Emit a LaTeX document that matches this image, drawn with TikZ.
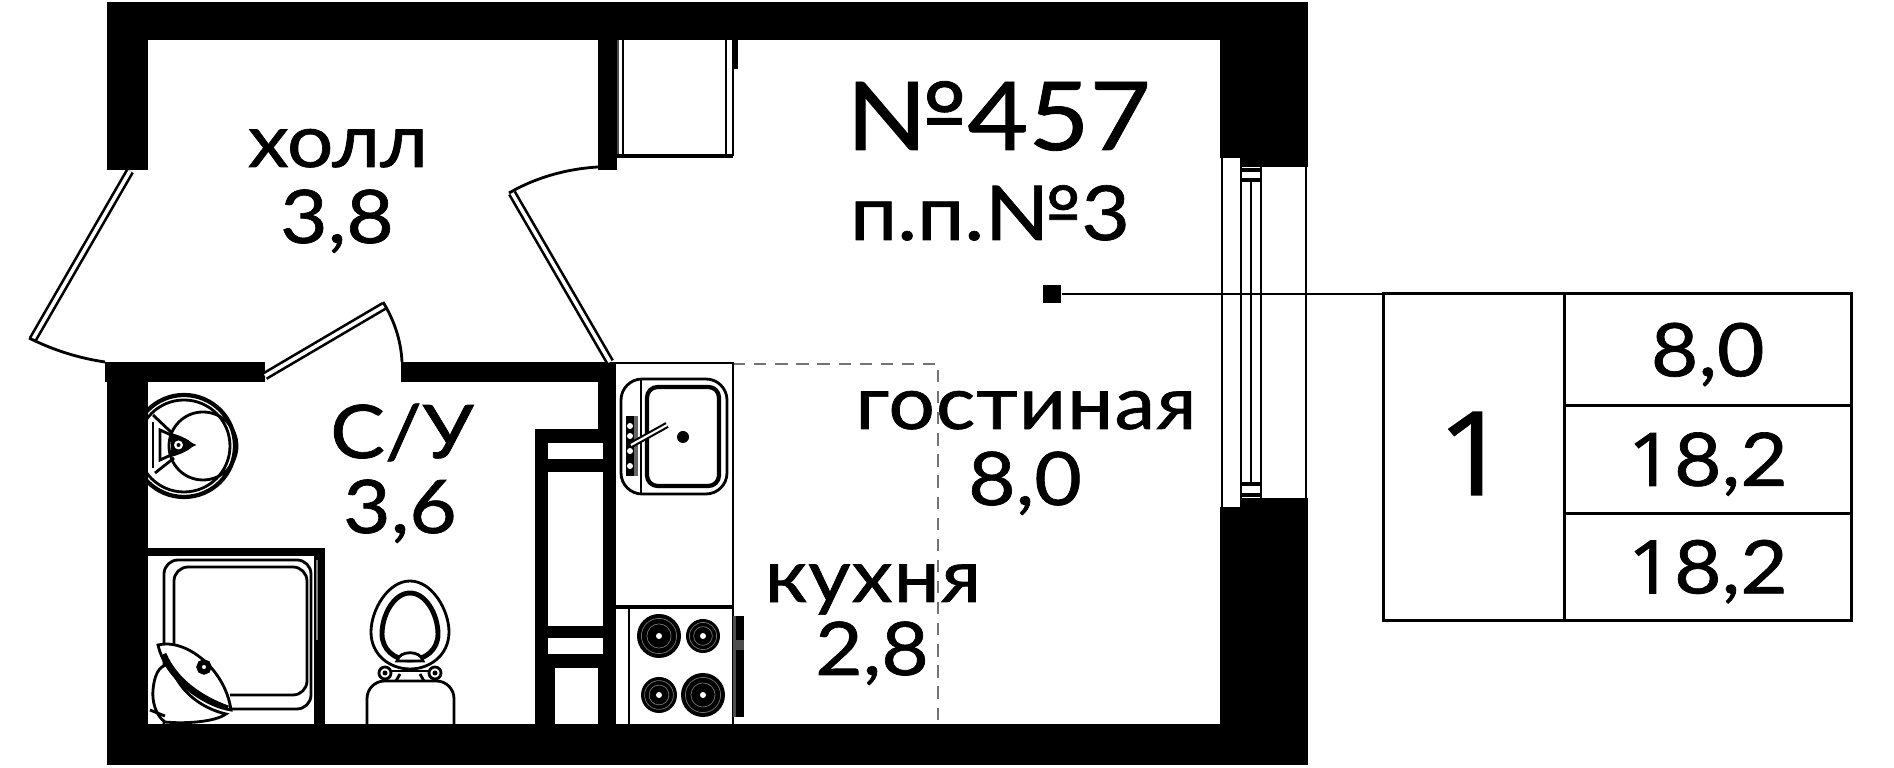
\documentclass[tikz,border=0pt]{standalone}
\usepackage{fontspec}
\setmainfont{Lato}[FakeStretch=1.11, RawFeature={embolden=0.9}]
\newfontfamily\onefont{Open Sans}[FakeStretch=1.1, RawFeature={embolden=1.2}]
\newcommand{\unitdigit}{{\onefont 1}}
\usepackage{tikz}
\usetikzlibrary{positioning}
\tikzstyle{wall} = [fill=black, draw=none]
\tikzstyle{cutout} = [fill=white, draw=none]
\tikzstyle{line} = [draw=black, line width=0.8pt]
\tikzstyle{thickline} = [draw=black, line width=1.2pt]
\tikzstyle{door} = [draw=black, line width=0.75pt, double=white, double distance=1pt]
\tikzstyle{swing} = [draw=black, line width=0.8pt]
\tikzstyle{zone} = [draw=black!55, line width=0.6pt, dash pattern=on 3.5pt off 2.5pt]
\tikzstyle{label} = [anchor=base, inner sep=0pt, font=\fontsize{21}{21}\selectfont]
\tikzstyle{wide} = [font=\fontsize{21}{21}\selectfont\addfontfeature{LetterSpace=1.5}]
\tikzstyle{title} = [anchor=base, inner sep=0pt, font=\fontsize{27}{27}\selectfont]
\tikzstyle{cell} = [rectangle, draw=black, line width=0.85pt, minimum width=2.87cm, inner sep=0pt, outer sep=0pt, text depth=0pt, font=\fontsize{21}{21}\selectfont, anchor=north west]

\begin{document}
\begin{tikzpicture}[x=0.01cm, y=-0.01cm]
	\useasboundingbox (0,0) rectangle (1894,768);
	\fill[white] (0,0) rectangle (1894,768);
	% walls
	\fill[wall] (107,2) rectangle (1308,40);
	\fill[wall] (107,2) rectangle (148,170);
	\fill[wall] (598,40) rectangle (617,170);
	\fill[wall] (1220,2) rectangle (1308,158);
	\fill[wall] (1240,158) rectangle (1308,167);
	\fill[wall] (1220,507) rectangle (1308,765);
	\fill[wall] (1240,498) rectangle (1308,507);
	\fill[wall] (107,724) rectangle (1308,765);
	\fill[wall] (107,382) rectangle (148,765);
	\fill[wall] (105,362) rectangle (265,382);
	\fill[wall] (401,362) rectangle (616,382);
	\fill[wall] (598,382) rectangle (616,429);
	\fill[wall] (535,429) rectangle (616,724);
	% shaft
	\fill[cutout] (548,443) rectangle (603,459);
	\fill[cutout] (548,472) rectangle (603,626);
	\fill[cutout] (548,638) rectangle (603,654);
	\fill[cutout] (555,668) rectangle (598,724);
	% doors
	\draw[door] (130,171) -- (33,339);
	\draw[swing] (29,338) .. controls (53,350) and (78,358) .. (105,362);
	\draw[door] (265,376) -- (384,306);
	\draw[swing] (383,302) .. controls (394,320) and (401,340) .. (402,362);
	\draw[door] (512,193) -- (610,362);
	\draw[swing] (509,193) .. controls (535,178) and (565,169) .. (598,167);
	% window
	\draw[line] (1222,158) -- (1222,507);
	\draw[line] (1306,167) -- (1306,498);
	\draw[line] (1241,162) rectangle (1261,503);
	\draw[line] (1251,180) -- (1251,484);
	\foreach \wy in {170,180,484,495}
		\draw[thickline] (1241,\wy) -- (1261,\wy);
	% cabinet
	\draw[draw=black!70, line width=0.6pt] (618,40) -- (618,156);
	\draw[line] (623,40) -- (623,156);
	\draw[line] (726,40) -- (726,156);
	\draw[line] (733,40) -- (733,156);
	\draw[thickline] (617,156) -- (733,156);
	\fill[wall] (733,40) rectangle (738,69);
	% kitchen
	\draw[zone] (733,364) -- (938,364) -- (938,724);
	\draw[line] (616,363) -- (733,363) -- (733,724);
	\draw[thickline] (616,607) -- (733,607);
	\draw[line] (629,607) -- (629,724);
	\draw[line, rounded corners=6pt] (621,379) rectangle (727,494);
	\draw[thickline, rounded corners=3pt] (647,387) rectangle (719,486);
	\draw[line] (641,379) -- (641,494);
	\fill[black] (683,437) circle (6);
	\fill[black] (626,416) rectangle (634,476);
	\fill[black!60] (634,416) rectangle (638,476);
	\foreach \hy in {426,436,451,466}
		\fill[white] (630,\hy) circle (3);
	\draw[door, line width=0.6pt, double distance=0.6pt] (631,445) -- (667,425);
	\foreach \bx/\by/\br in {659/636/22, 703/636/17, 659/695/18, 703/695/22} {
		\fill[black] (\bx,\by) circle (\br);
		\draw[black!55, line width=0.2pt] (\bx,\by) circle ({0.8*\br});
		\draw[black!55, line width=0.2pt] (\bx,\by) circle ({0.55*\br});
		\fill[white] (\bx,\by) circle (3);
	}
	\fill[black!70] (733,616) rectangle (744,717);
	\fill[black] (736,616) rectangle (744,717);
	\fill[black!70] (733,640) rectangle (744,650);
	% wash basin
	\begin{scope}
		\clip (148,380) rectangle (260,510);
		\draw[thickline] (184,446) circle (51);
		\draw[line] (184,446) circle (46);
		\draw[line] (203,446) circle (34);
	\end{scope}
	\draw[line] (153,415) -- (172,433);
	\draw[line] (155,473) -- (174,458);
	\draw[line] (153,422) -- (153,468);
	\draw[line] (160,430) -- (193,445) -- (160,460) -- cycle;
	\fill[black] (171,433) .. controls (182,436) and (192,441) .. (193,445) .. controls (192,449) and (182,454) .. (171,457) -- cycle;
	\fill[white] (178.5,445) circle (4.5);
	\fill[black] (178.5,445) circle (2);
	% shower
	\fill[wall] (148,548) rectangle (325,556);
	\fill[wall] (314,548) rectangle (325,724);
	\draw[draw=black!50, line width=0.5pt] (317,560) -- (317,640);
	\draw[line, rounded corners=4pt] (164,724) -- (164,560) -- (311,560) -- (311,709) -- (230,709);
	\draw[line, rounded corners=4pt] (174,660) -- (174,567) -- (307,567) -- (307,695) -- (230,695);
	\draw[line, fill=white] (153,690) .. controls (155,668) and (163,665) .. (170,664) .. controls (178,690) and (200,708) .. (226,714) .. controls (215,722) and (185,724) .. (165,722) .. controls (155,715) and (152,700) .. (153,690) -- cycle;
	\draw[line, fill=white] (158,645) .. controls (185,638) and (225,668) .. (231,710) .. controls (205,706) and (166,680) .. (158,645) -- cycle;
	\draw[draw=black, line width=1.4pt] (164,654) .. controls (175,680) and (200,698) .. (228,708);
	\draw[draw=black, line width=1.5pt, fill=white] (204,667) circle (5);
	\draw[line] (150,710) -- (165,716);
	% toilet
	\draw[line] (410,581) .. controls (432,581) and (449,610) .. (449,632) .. controls (449,655) and (430,669) .. (410,669) .. controls (390,669) and (371,655) .. (371,632) .. controls (371,610) and (388,581) .. (410,581) -- cycle;
	\draw[draw=black, line width=1.4pt] (410,593) .. controls (426,593) and (438,615) .. (438,634) .. controls (438,650) and (425,660) .. (410,660) .. controls (395,660) and (382,650) .. (382,634) .. controls (382,615) and (394,593) .. (410,593) -- cycle;
	\draw[line, fill=white] (397,661) .. controls (399,650) and (421,650) .. (423,661) -- cycle;
	\draw[line] (385,673) circle (6);
	\draw[line] (435,673) circle (6);
	\fill[black] (385,673) circle (2.5);
	\fill[black] (435,673) circle (2.5);
	\draw[line] (392,671) -- (428,671);
	\draw[line] (396,681) -- (400,674);
	\draw[line] (424,681) -- (420,674);
	\draw[line, rounded corners=5pt] (367,724) -- (367,681) -- (454,681) -- (454,724);
	% room labels
	\node (hall) [label] at (338,167) {холл};
	\node (hallarea) [label] at (337,243) {3,8};
	\node (bath) [label] at (402,458) {С/У};
	\node (batharea) [label] at (400,533) {3,6};
	\node (living) [label, wide] at (1026,429) {гостиная};
	\node (livingarea) [label] at (1025,505) {8,0};
	\node (kitchen) [label, wide] at (873,602) {кухня};
	\node (kitchenarea) [label] at (872,675) {2,8};
	\node (flat) [title] at (998,150) {№457};
	\node (plot) [label, font=\fontsize{21.5}{22}\selectfont] at (990,240) {п.п.№3};
	% table
	\node (rooms) [cell, minimum width=1.81cm, minimum height=3.26cm, font=\fontsize{33}{33}\selectfont] at (1383,294) {\raisebox{2pt}{\unitdigit}};
	\node (rowa) [cell, minimum height=1.11cm] at (rooms.north east) {8,0\hspace{2pt}};
	\node (rowb) [cell, minimum height=1.08cm] at (rowa.south west) {\unitdigit 8,2\hspace{2pt}};
	\node (rowc) [cell, minimum height=1.07cm] at (rowb.south west) {\unitdigit 8,2\hspace{2pt}};
	\node (mark) [fill=black, minimum size=0.18cm, inner sep=0pt] at (1052,294) {};
	\draw[line] (mark) -- (rooms.north west);
\end{tikzpicture}
\end{document}
